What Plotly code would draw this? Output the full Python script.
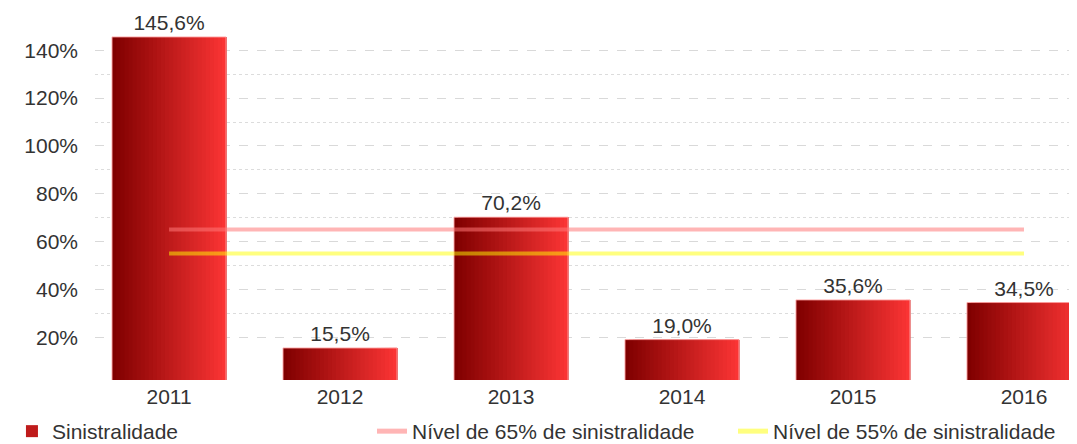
import plotly.graph_objects as go

years = ["2011", "2012", "2013", "2014", "2015", "2016"]
sinistralidade = [145.6, 15.5, 70.2, 19.0, 35.6, 34.5]
labels = ["145,6%", "15,5%", "70,2%", "19,0%", "35,6%", "34,5%"]
nivel65 = [65, 65, 65, 65, 65, 65]
nivel55 = [55, 55, 55, 55, 55, 55]
ytick_vals = [20, 40, 60, 80, 100, 120, 140]
ytick_text = ["20%", "40%", "60%", "80%", "100%", "120%", "140%"]
minor_vals = [30, 50, 70, 90, 110, 130]

FONT = "Liberation Sans, Arial, sans-serif"
TXT = "#333333"
FS = 21

fig = go.Figure()

# gradient bars built from overlapping slices (each reaches the right edge)
N = 28
BAR_W = 0.667
left = (128, 0, 0)
right = (250, 52, 52)
sw = BAR_W / N
for k in range(N):
    t = k / (N - 1)
    c = tuple(round(left[i] + (right[i] - left[i]) * t) for i in range(3))
    fig.add_trace(go.Bar(
        x=years, y=sinistralidade,
        width=BAR_W - k * sw, offset=-BAR_W / 2 + k * sw,
        marker=dict(color="rgb(%d,%d,%d)" % c, line=dict(width=0)),
        name="Sinistralidade",
        showlegend=(k == N // 2),
        legend="legend",
        hoverinfo="skip",
    ))

# outline + labels
fig.add_trace(go.Bar(
    x=years, y=sinistralidade, width=BAR_W, offset=-BAR_W / 2,
    marker=dict(color="rgba(0,0,0,0)", line=dict(color="rgba(255,170,170,0.9)", width=1)),
    text=labels, textposition="outside", cliponaxis=False,
    textfont=dict(family=FONT, size=FS, color=TXT),
    showlegend=False, hoverinfo="skip",
))

fig.add_trace(go.Scatter(
    x=years, y=nivel65, mode="lines",
    line=dict(color="rgba(255,120,120,0.55)", width=4),
    name="Nível de 65% de sinistralidade", legend="legend2",
))
fig.add_trace(go.Scatter(
    x=years, y=nivel55, mode="lines",
    line=dict(color="rgba(255,255,0,0.5)", width=4),
    name="Nível de 55% de sinistralidade", legend="legend3",
))

def leg(x):
    return dict(
        orientation="h", xref="container", yref="container",
        x=x, xanchor="left", y=0.0757, yanchor="top",
        font=dict(family=FONT, size=FS, color=TXT),
        itemsizing="constant", bgcolor="rgba(0,0,0,0)",
    )

fig.update_layout(
    width=1069, height=436,
    margin=dict(l=87, r=0, t=22, b=64, autoexpand=False),
    paper_bgcolor="white", plot_bgcolor="white",
    barmode="overlay",
    font=dict(family=FONT, size=FS, color=TXT),
    showlegend=True,
    legend=leg(0.0037),
    legend2=leg(0.3405),
    legend3=leg(0.6782),
    xaxis=dict(
        type="category", range=[-0.433, 5.31],
        showgrid=False, zeroline=False, showline=False, ticks="",
        tickfont=dict(family=FONT, size=FS, color=TXT),
        ticklabelstandoff=2,
    ),
    yaxis=dict(
        range=[2.1, 148.5],
        tickmode="array", tickvals=ytick_vals, ticktext=ytick_text,
        showgrid=True, gridcolor="#d9d9d9", griddash="dash", gridwidth=1,
        zeroline=False, showline=False, ticks="",
        tickfont=dict(family=FONT, size=FS, color=TXT),
        ticklabelstandoff=16,
        minor=dict(tickmode="array", tickvals=minor_vals, showgrid=True,
                   gridcolor="#dcdcdc", griddash="dot", gridwidth=1),
    ),
)

fig.write_html("out.html")
